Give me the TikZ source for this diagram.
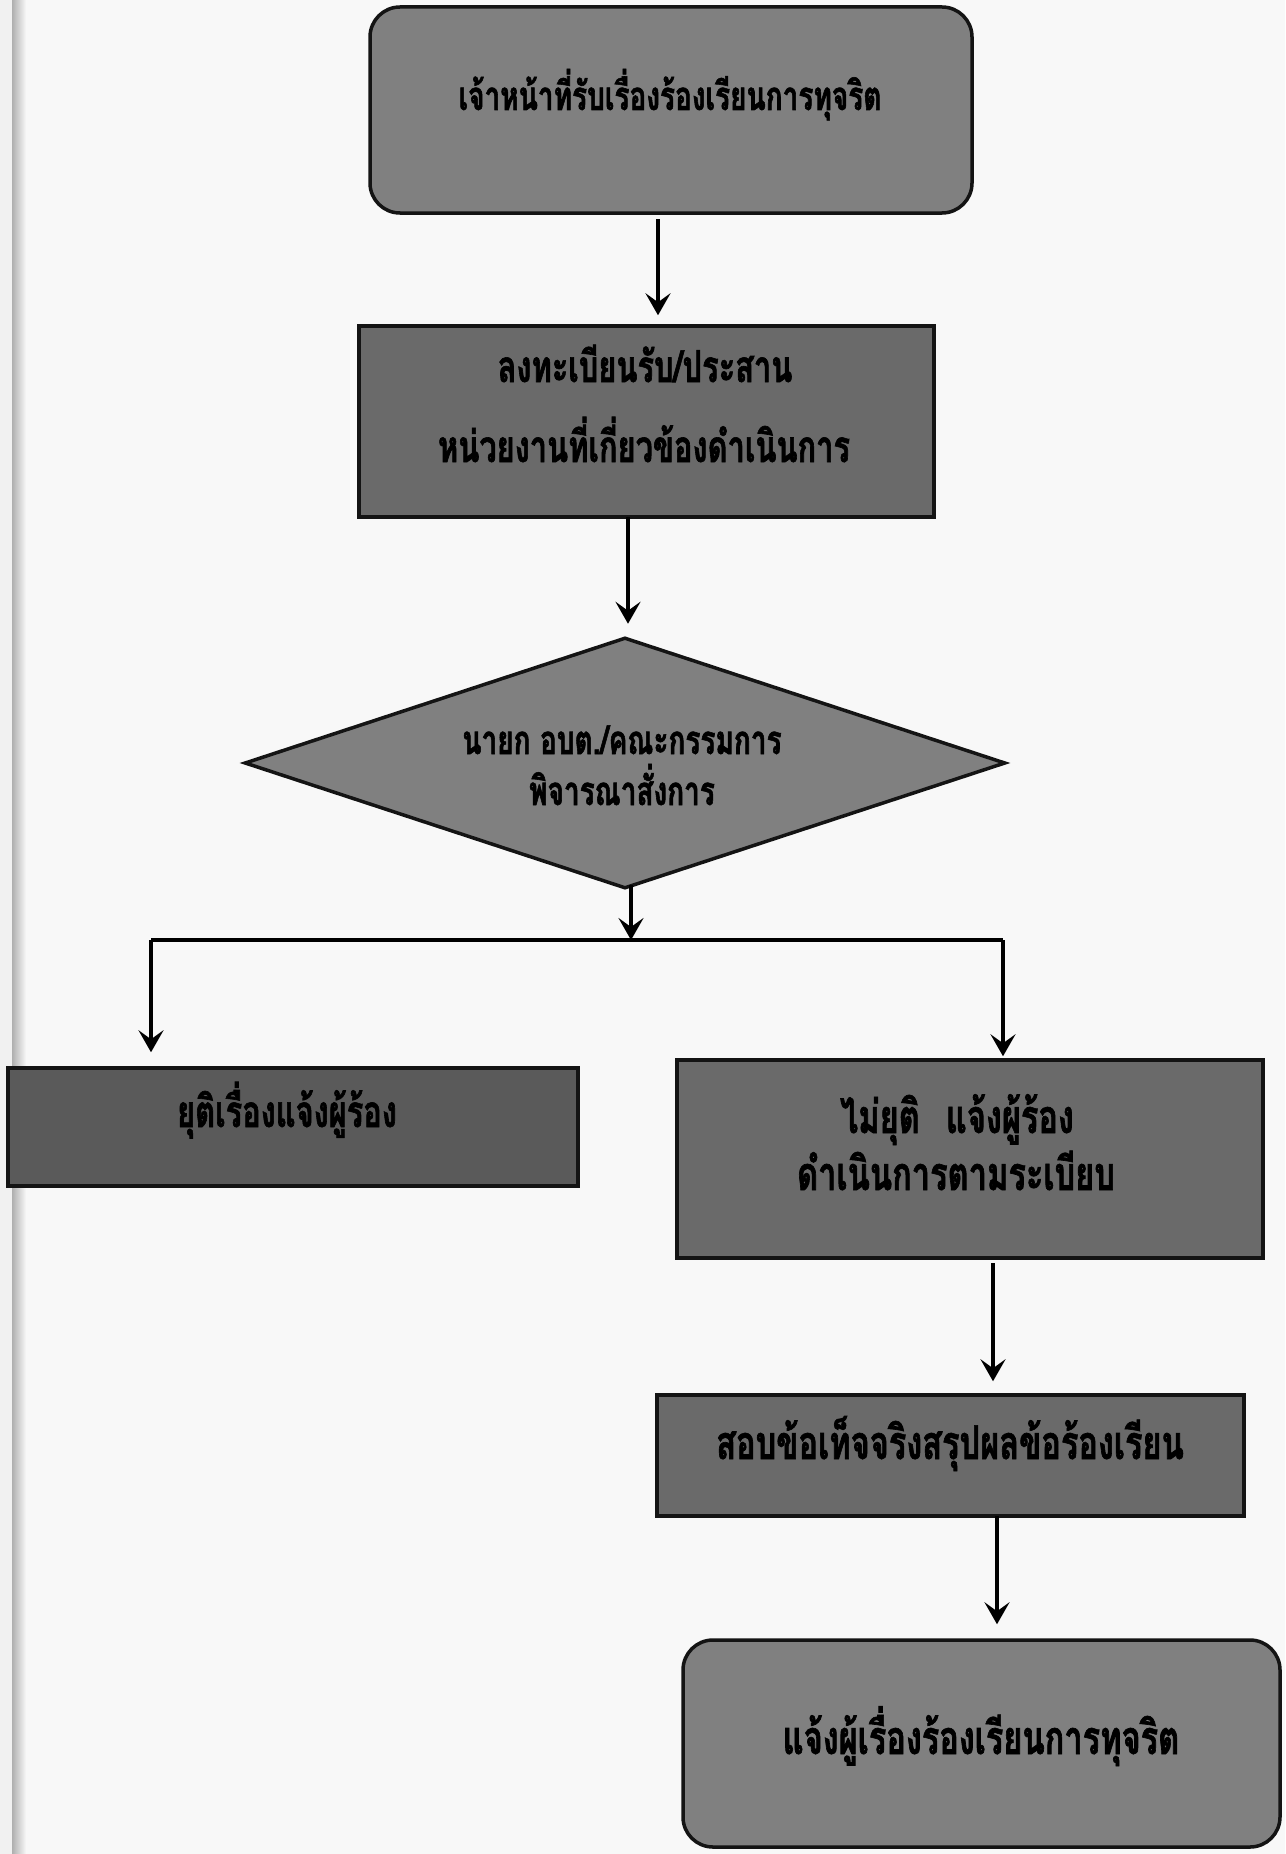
\documentclass[tikz,border=0pt]{standalone}
\usepackage{fontspec}
\newfontfamily\thaifont[Script=Thai,FakeStretch=0.70,FakeBold=1.4]{Loma}
\usetikzlibrary{shapes.geometric,arrows.meta}
\definecolor{pagebg}{RGB}{248,248,248}
\definecolor{edgebg}{RGB}{175,175,175}
\definecolor{fillA}{RGB}{128,128,128}
\definecolor{fillB}{RGB}{106,106,106}
\definecolor{fillC}{RGB}{90,90,90}
\definecolor{inkline}{RGB}{20,20,20}
\tikzset{
  boxbase/.style={draw=inkline,line width=3.5pt,inner sep=0pt},
  roundbox/.style={boxbase,rounded corners=30pt,fill=fillA},
  rectbox/.style={boxbase,fill=fillB},
  decbox/.style={boxbase,shape=diamond,aspect=3.03,fill=fillA},
  label/.style={anchor=base,inner sep=0pt,text=black,
    font=\thaifont\bfseries\fontsize{44}{60}\selectfont},
  biglabel/.style={label,font=\thaifont\bfseries\fontsize{46.5}{60}\selectfont},
  smalllabel/.style={label,font=\thaifont\bfseries\fontsize{40}{52}\selectfont},
  arr/.style={draw=black,line width=4pt,
    -{Stealth[length=22pt,width=25pt,inset=9pt]}},
  plainline/.style={draw=black,line width=4pt}
}
\begin{document}
\begin{tikzpicture}[x=1pt,y=-1pt]
\useasboundingbox (0,0) rectangle (1285,1854);
\fill[pagebg] (0,0) rectangle (1285,1854);
\shade[left color=edgebg,right color=pagebg] (12,0) rectangle (26,1854);
\fill[pagebg!90!edgebg] (0,0) rectangle (12,1854);

% boxes
\node[roundbox,minimum width=602pt,minimum height=206pt] (top) at (671,110) {};
\node[rectbox,minimum width=575pt,minimum height=191pt] (reg) at (646.5,421.5) {};
\node[decbox,minimum width=761pt,minimum height=251pt] (dec) at (625,763) {};
\node[rectbox,fill=fillC,minimum width=570pt,minimum height=118pt] (stop) at (293,1127) {};
\node[rectbox,minimum width=586pt,minimum height=198pt] (go) at (970,1159) {};
\node[rectbox,minimum width=587pt,minimum height=121pt] (check) at (950.5,1455.5) {};
\node[roundbox,minimum width=597pt,minimum height=207pt] (tell) at (981.5,1743.5) {};

% texts (baselines)
\node[smalllabel] (ttop) at (670,110) {เจ้าหน้าที่รับเรื่องร้องเรียนการทุจริต};
\node[label] (treg1) at (645,382) {ลงทะเบียนรับ/ประสาน};
\node[label] (treg2) at (644,462) {หน่วยงานที่เกี่ยวข้องดำเนินการ};
\node[smalllabel] (tdec1) at (622,754) {นายก อบต./คณะกรรมการ};
\node[smalllabel] (tdec2) at (622,805) {พิจารณาสั่งการ};
\node[label] (tstop) at (287,1127) {ยุติเรื่องแจ้งผู้ร้อง};
\node[biglabel] (tgo1) at (957,1133) {ไม่ยุติ\hspace{26pt}แจ้งผู้ร้อง};
\node[biglabel] (tgo2) at (956,1190) {ดำเนินการตามระเบียบ};
\node[biglabel] (tcheck) at (950,1459) {สอบข้อเท็จจริงสรุปผลข้อร้องเรียน};
\node[biglabel] (ttell) at (981,1754) {แจ้งผู้เรื่องร้องเรียนการทุจริต};

% connectors
\coordinate (a1) at (658,219);
\draw[arr,shorten >=9pt] (a1) -- (a1 |- reg.north);
\coordinate (a2) at (628,517);
\draw[arr,shorten >=12pt] (a2) -- (a2 |- dec.north);
\coordinate (a3) at (631,885);
\coordinate (split) at (631,940);
\draw[arr] (a3) -- (split);
\coordinate (bl) at (151,940);
\coordinate (br) at (1003,940);
\draw[plainline] (bl) -- (br);
\draw[arr,shorten >=14pt] (bl) -- (bl |- stop.north);
\draw[arr,shorten >=2pt] (br) -- (br |- go.north);
\coordinate (a4) at (993,1263);
\draw[arr,shorten >=12pt] (a4) -- (a4 |- check.north);
\coordinate (a5) at (997,1516);
\draw[arr,shorten >=14pt] (a5) -- (a5 |- tell.north);
\end{tikzpicture}
\end{document}
